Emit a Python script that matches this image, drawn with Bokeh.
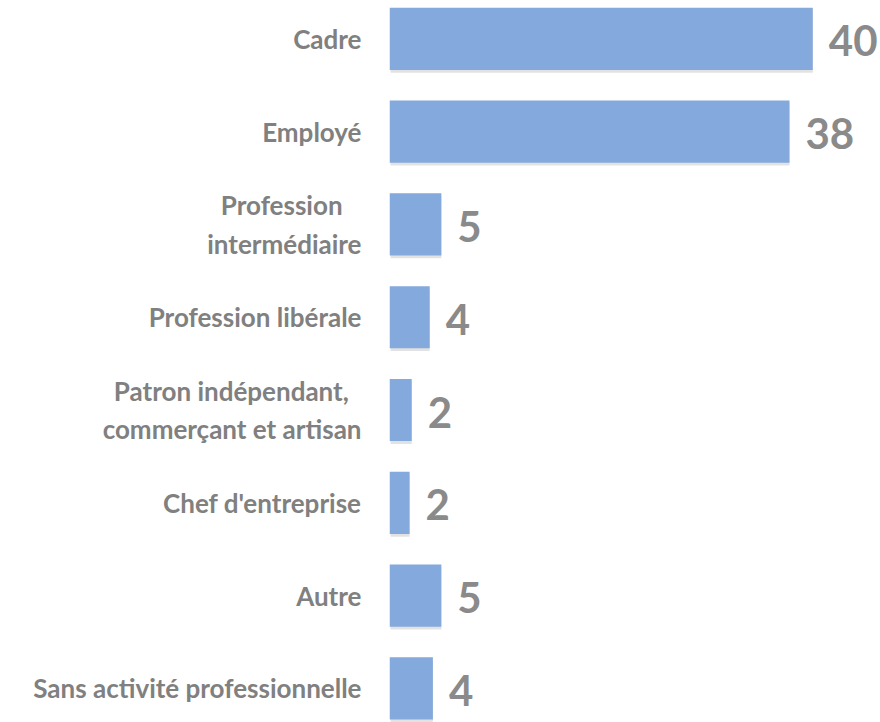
from bokeh.plotting import figure
from bokeh.models import Range1d, FixedTicker, ColumnDataSource
from bokeh.core.properties import value
from bokeh.embed import file_html
from bokeh.resources import INLINE

NB = "\u00a0"
categories = ["Cadre", "Employé", "Profession" + NB * 3 + "\nintermédiaire", "Profession libérale",
              "Patron indépendant," + NB * 2 + "\ncommerçant et artisan", "Chef d'entreprise",
              "Autre", "Sans activité professionnelle"]
values = [40.0, 37.8, 4.9, 3.8, 2.1, 1.9, 4.9, 4.1]
labels = [str(int(round(v))) for v in values]
positions = list(range(len(categories)))

BAR = "#84A9DC"
TXT = "#808080"
VAL = "#8A8A8A"

src = ColumnDataSource(dict(y=positions, v=values, lab=labels,
                            ys=[p + 0.03 for p in positions]))

p = figure(width=880, height=722, output_backend="svg", toolbar_location=None,
           x_range=Range1d(0, 46.4), y_range=Range1d(7.367, -0.4127),
           x_axis_location=None, min_border_left=389, min_border_right=0,
           min_border_top=0, min_border_bottom=0, outline_line_color=None)
p.grid.visible = False
p.background_fill_color = "white"

# soft shadow
p.hbar(y="ys", right="v", left=0.1, height=0.67, source=src,
       fill_color="#A0A0A0", fill_alpha=0.3, line_color=None)
p.hbar(y="y", right="v", left=0, height=0.67, source=src,
       fill_color=BAR, line_color=None)

p.text(x="v", y="y", text="lab", source=src, x_offset=16, y_offset=2,
       text_align="left", text_baseline="middle",
       text_font=value("Lato"), text_font_style="bold",
       text_font_size="42px", text_color=VAL)

ax = p.yaxis[0]
ax.ticker = FixedTicker(ticks=positions)
ax.major_label_overrides = {i: c for i, c in zip(positions, categories)}
ax.axis_line_color = None
ax.major_tick_line_color = None
ax.minor_tick_line_color = None
ax.major_label_standoff = 22
ax.major_label_text_font = "Lato"
ax.major_label_text_font_style = "bold"
ax.major_label_text_font_size = "26px"
ax.major_label_text_color = TXT

open("out.html", "w").write(file_html(p, INLINE))
